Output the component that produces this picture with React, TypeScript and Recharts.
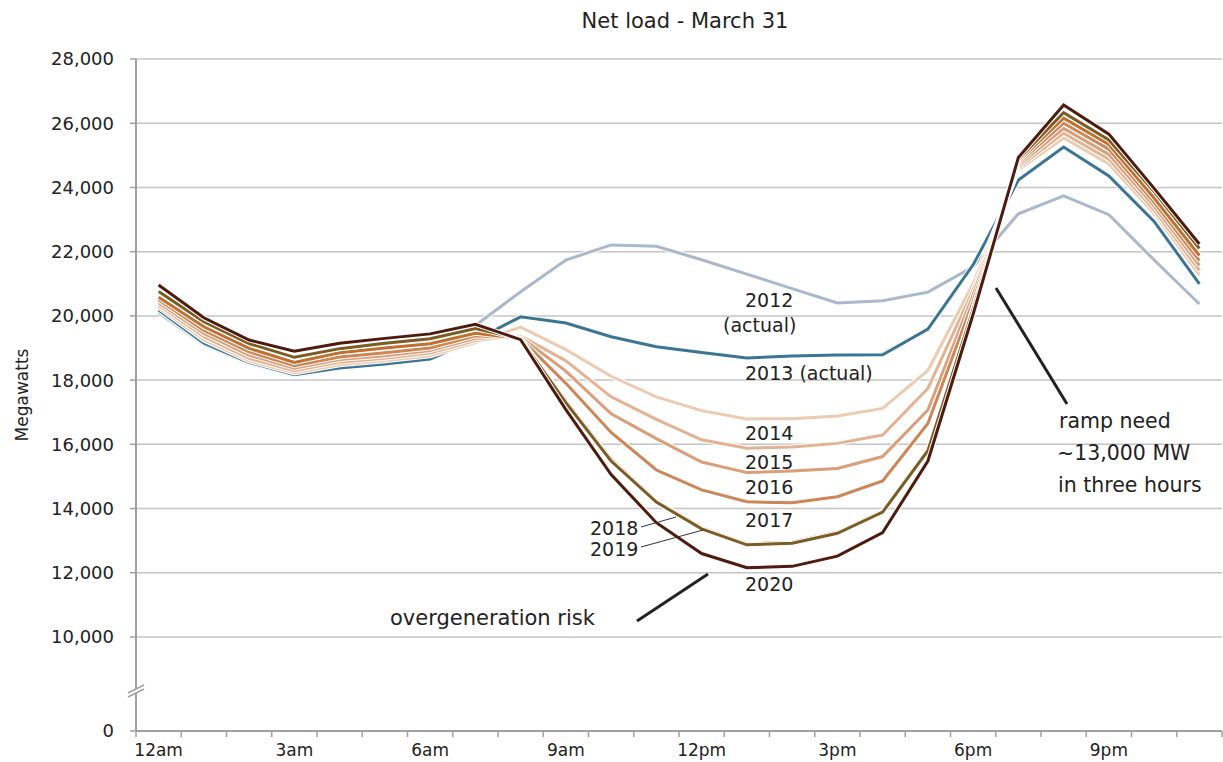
import React from 'react';
import { LineChart, Line, XAxis, YAxis, CartesianGrid } from 'recharts';

// ---- data ----
const hourLabels = [
  '12am', '1am', '2am', '3am', '4am', '5am', '6am', '7am', '8am', '9am', '10am', '11am',
  '12pm', '1pm', '2pm', '3pm', '4pm', '5pm', '6pm', '7pm', '8pm', '9pm', '10pm', '11pm',
];
const xTickHours = [0, 3, 6, 9, 12, 15, 18, 21];

const s2012 = [20100, 19100, 18520, 18150, 18400, 18550, 18700, 19700, 20750, 21740, 22210, 22170, 21750, 21300, 20850, 20400, 20470, 20740, 21530, 23180, 23740, 23150, 21740, 20370];
const s2013 = [20180, 19150, 18550, 18170, 18380, 18500, 18660, 19250, 19970, 19780, 19350, 19040, 18860, 18690, 18750, 18780, 18790, 19590, 21590, 24230, 25260, 24360, 22940, 21000];
const s2014 = [20270, 19250, 18600, 18220, 18480, 18600, 18760, 19170, 19650, 18950, 18120, 17480, 17050, 16790, 16800, 16880, 17120, 18300, 21000, 24550, 25540, 24730, 23190, 21270];
const s2015 = [20340, 19350, 18680, 18290, 18560, 18680, 18840, 19230, 19380, 18600, 17480, 16780, 16140, 15880, 15920, 16030, 16290, 17740, 20800, 24620, 25690, 24880, 23300, 21420];
const s2016 = [20410, 19450, 18780, 18370, 18640, 18760, 18920, 19300, 19340, 18280, 16950, 16180, 15450, 15120, 15170, 15250, 15620, 17070, 20650, 24690, 25840, 25030, 23420, 21570];
const s2017 = [20500, 19550, 18880, 18450, 18720, 18850, 19000, 19380, 19300, 17900, 16370, 15200, 14580, 14210, 14180, 14370, 14860, 16650, 20450, 24760, 26000, 25190, 23540, 21720];
const s2018 = [20580, 19660, 18990, 18550, 18850, 19000, 19130, 19460, 19300, 17350, 15530, 14230, 13400, 12900, 12950, 13260, 13920, 15830, 20250, 24820, 26160, 25340, 23670, 21880];
const s2019 = [20760, 19820, 19140, 18710, 18980, 19150, 19290, 19610, 19280, 17300, 15480, 14200, 13370, 12870, 12920, 13230, 13890, 15800, 20200, 24870, 26330, 25480, 23870, 22100];
const s2020 = [20960, 19940, 19250, 18900, 19150, 19300, 19440, 19740, 19260, 17080, 15060, 13560, 12600, 12160, 12200, 12520, 13250, 15480, 20050, 24930, 26570, 25660, 23970, 22240];

const years = ['2012', '2013', '2014', '2015', '2016', '2017', '2018', '2019', '2020'];
const seriesValues = [s2012, s2013, s2014, s2015, s2016, s2017, s2018, s2019, s2020];
const colors = ['#a9b8cb', '#3b7596', '#edcbb0', '#e3b292', '#da9e78', '#cd8658', '#c0702f', '#7a5c24', '#4e1b0e'];

const yTicksMain = [10000, 12000, 14000, 16000, 18000, 20000, 22000, 24000, 26000, 28000];
// the axis is broken below 10,000: "0" sits at this display value
const ZERO_AT = 7073;

const data = hourLabels.map((lab, i) => {
  const row: Record<string, number | string> = { x: i + 0.5, hour: lab };
  years.forEach((y, k) => {
    row['y' + y] = seriesValues[k][i];
  });
  return row;
});

const xTicks: number[] = [];
for (let i = 0; i <= 48; i++) xTicks.push(i / 2);

const FONT = '"DejaVu Sans", sans-serif';
const TEXT = '#222';
const AXIS = '#a0a0a0';

const XTick = (props: any) => {
  const { x, y, payload } = props;
  const v = payload.value as number;
  if (Number.isInteger(v)) {
    return <line x1={x} x2={x} y1={y} y2={y + 6} stroke={AXIS} strokeWidth={1.5} />;
  }
  const h = v - 0.5;
  if (xTickHours.includes(h)) {
    return (
      <text x={x} y={y + 25} textAnchor="middle" fill={TEXT} fontSize={17} fontFamily={FONT}>
        {hourLabels[h]}
      </text>
    );
  }
  return <g />;
};

const fmtY = (v: number) => (v === ZERO_AT ? '0' : v.toLocaleString('en-US'));

export default function App() {
  return (
    <div style={{ position: 'absolute', left: 0, top: 0, width: 1223, height: 762, background: '#fff' }}>
      <LineChart
        width={1223}
        height={762}
        data={data}
        margin={{ top: 59, right: 1, bottom: 0, left: 56 }}
      >
        <CartesianGrid vertical={false} stroke="#c4c4c4" strokeWidth={1.5} />
        <XAxis
          dataKey="x"
          type="number"
          domain={[0, 24]}
          ticks={xTicks}
          interval={0}
          tick={(p: any) => <XTick {...p} />}
          tickLine={false}
          tickSize={0}
          tickMargin={0}
          height={31}
          axisLine={{ stroke: AXIS, strokeWidth: 2 }}
        />
        <YAxis
          type="number"
          domain={[ZERO_AT, 28000]}
          ticks={[ZERO_AT, ...yTicksMain]}
          interval={0}
          allowDataOverflow
          width={80}
          tickFormatter={fmtY}
          tickSize={6}
          tickMargin={16}
          tick={{ fill: TEXT, fontSize: 18, fontFamily: FONT }}
          tickLine={{ stroke: AXIS, strokeWidth: 1.5 }}
          axisLine={{ stroke: AXIS, strokeWidth: 2 }}
        />
        {years.map((y, k) => [
          <Line
            key={'w' + y}
            dataKey={'y' + y}
            stroke="#ffffff"
            strokeWidth={5}
            dot={false}
            activeDot={false}
            isAnimationActive={false}
            legendType="none"
          />,
          <Line
            key={'c' + y}
            dataKey={'y' + y}
            stroke={colors[k]}
            strokeWidth={3}
            dot={false}
            activeDot={false}
            isAnimationActive={false}
            legendType="none"
          />,
        ])}
      </LineChart>
      <svg
        width={1223}
        height={762}
        style={{ position: 'absolute', left: 0, top: 0, pointerEvents: 'none' }}
        fontFamily={FONT}
      >
        <text x={685} y={28} textAnchor="middle" fontSize={21} fill={TEXT}>Net load - March 31</text>
        <text x={28} y={395} textAnchor="middle" fontSize={17} fill={TEXT} transform="rotate(-90 28 395)">Megawatts</text>
        {/* axis break */}
        <polygon points="128,693 144,685 144,689 128,697" fill="#fff" />
        <line x1={128} y1={693} x2={144} y2={685} stroke={AXIS} strokeWidth={1.5} />
        <line x1={128} y1={697} x2={144} y2={689} stroke={AXIS} strokeWidth={1.5} />
        {/* series labels */}
        <g fontSize={19} fill={TEXT}>
          <text x={745} y={307}>2012</text>
          <text x={723} y={332}>(actual)</text>
          <text x={745} y={380}>2013 (actual)</text>
          <text x={745} y={440}>2014</text>
          <text x={745} y={469}>2015</text>
          <text x={745} y={494}>2016</text>
          <text x={745} y={527}>2017</text>
          <text x={590} y={535}>2018</text>
          <text x={590} y={556}>2019</text>
          <text x={745} y={591}>2020</text>
        </g>
        <line x1={641} y1={527} x2={676} y2={517} stroke="#333" strokeWidth={1} />
        <line x1={641} y1={547} x2={703} y2={530} stroke="#333" strokeWidth={1} />
        <text x={390} y={625} fontSize={21} fill={TEXT}>overgeneration risk</text>
        <line x1={637} y1={621} x2={708} y2={574} stroke="#222" strokeWidth={3} />
        <line x1={996} y1={288} x2={1067} y2={404} stroke="#222" strokeWidth={3} />
        <g fontSize={20.5} fill={TEXT}>
          <text x={1059} y={428}>ramp need</text>
          <text x={1057} y={460}>~13,000 MW</text>
          <text x={1058} y={492}>in three hours</text>
        </g>
      </svg>
    </div>
  );
}
